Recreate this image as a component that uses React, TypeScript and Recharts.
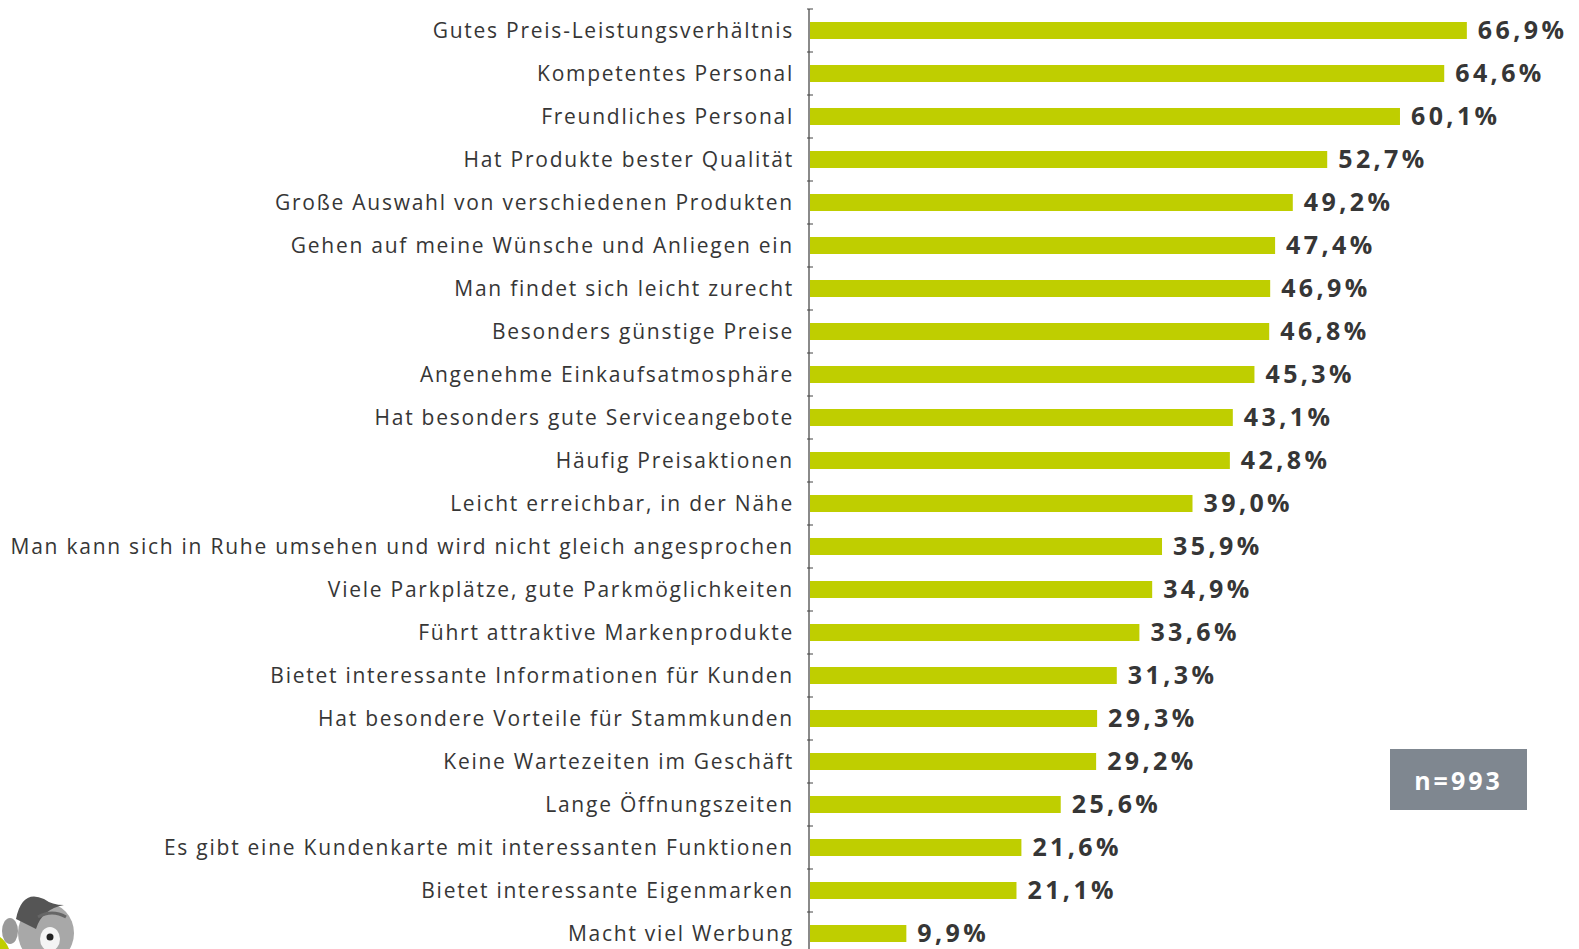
import { Bar, BarChart, LabelList, XAxis, YAxis } from 'recharts';

const categories = [
  'Gutes Preis-Leistungsverhältnis',
  'Kompetentes Personal',
  'Freundliches Personal',
  'Hat Produkte bester Qualität',
  'Große Auswahl von verschiedenen Produkten',
  'Gehen auf meine Wünsche und Anliegen ein',
  'Man findet sich leicht zurecht',
  'Besonders günstige Preise',
  'Angenehme Einkaufsatmosphäre',
  'Hat besonders gute Serviceangebote',
  'Häufig Preisaktionen',
  'Leicht erreichbar, in der Nähe',
  'Man kann sich in Ruhe umsehen und wird nicht gleich angesprochen',
  'Viele Parkplätze, gute Parkmöglichkeiten',
  'Führt attraktive Markenprodukte',
  'Bietet interessante Informationen für Kunden',
  'Hat besondere Vorteile für Stammkunden',
  'Keine Wartezeiten im Geschäft',
  'Lange Öffnungszeiten',
  'Es gibt eine Kundenkarte mit interessanten Funktionen',
  'Bietet interessante Eigenmarken',
  'Macht viel Werbung'
];

const values = [
  66.9, 64.6, 60.1, 52.7, 49.2, 47.4, 46.9, 46.8, 45.3, 43.1, 42.8, 39.0, 35.9, 34.9, 33.6, 31.3,
  29.3, 29.2, 25.6, 21.6, 21.1, 9.9
];

const sampleNote = 'n=993';

const data = categories.map((name, i) => ({ name, value: values[i] }));

const BAND = 43;
const BAR_COLOR = '#bfce00';
const TEXT_COLOR = '#363636';

const CategoryTick = (props: any) => {
  const { x, y, payload } = props;
  return (
    <g>
      <line x1={x + 6} x2={x + 12} y1={y - BAND / 2} y2={y - BAND / 2} stroke="#444" strokeWidth={1} />
      <text
        x={x - 7}
        y={y}
        dy={7}
        textAnchor="end"
        fill={TEXT_COLOR}
        fontFamily="'Open Sans', sans-serif"
        fontSize={21}
        letterSpacing={1.75}
      >
        {payload.value}
      </text>
    </g>
  );
};

function Mascot() {
  return (
    <svg width={90} height={90} style={{ position: 'absolute', left: 0, top: 875 }}>
      <path d="M0,62 Q6,66 9,74 L0,74 Z" fill={BAR_COLOR} />
      <ellipse cx={46} cy={58} rx={28} ry={30} fill="#a8a8a8" />
      <ellipse cx={10} cy={56} rx={8} ry={13} fill="#9a9a9a" />
      <path d="M16,44 Q22,14 44,24 Q52,30 64,30 Q42,34 36,54 Z" fill="#555" />
      <ellipse cx={50} cy={64} rx={10} ry={12} fill="#f4f4f4" />
      <circle cx={50} cy={62} r={3.5} fill="#222" />
      <path d="M38,42 Q52,34 66,42" stroke="#666" strokeWidth={3} fill="none" />
    </svg>
  );
}

export default function App() {
  return (
    <div
      style={{
        position: 'absolute',
        left: 0,
        top: 0,
        width: 1579,
        height: 949,
        overflow: 'hidden',
        background: '#fff'
      }}
    >
      <BarChart
        width={1579}
        height={960}
        data={data}
        layout="vertical"
        margin={{ top: 9, right: 3, bottom: 5, left: 0 }}
        barCategoryGap={0}
      >
        <XAxis type="number" domain={[0, 78]} hide />
        <YAxis
          type="category"
          dataKey="name"
          width={809}
          interval={0}
          tickLine={false}
          axisLine={{ stroke: '#8a8a8a', strokeWidth: 2 }}
          tick={<CategoryTick />}
        />
        <Bar dataKey="value" fill={BAR_COLOR} barSize={17} isAnimationActive={false}>
          <LabelList
            dataKey="value"
            position="right"
            offset={11}
            formatter={(v: number) => `${v.toFixed(1).replace('.', ',')}%`}
            fill={TEXT_COLOR}
            fontFamily="'Open Sans', sans-serif"
            fontWeight={700}
            fontSize={25}
            letterSpacing={3.4}
          />
        </Bar>
      </BarChart>
      <div
        style={{
          position: 'absolute',
          left: 1390,
          top: 749,
          width: 137,
          height: 61,
          background: '#7f8790',
          color: '#fff',
          fontFamily: "'Open Sans', sans-serif",
          fontWeight: 700,
          fontSize: 25,
          letterSpacing: 3,
          display: 'flex',
          alignItems: 'center',
          justifyContent: 'center'
        }}
      >
        {sampleNote}
      </div>
      <Mascot />
    </div>
  );
}
